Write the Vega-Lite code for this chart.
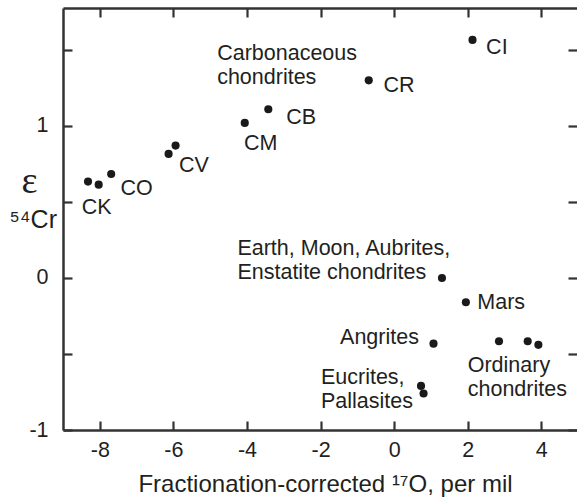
{
  "$schema": "https://vega.github.io/schema/vega-lite/v6.json",
  "width": 514,
  "height": 422,
  "autosize": {"type": "none"},
  "padding": {"left": 63, "top": 8, "right": 0, "bottom": 74},
  "background": "white",
  "config": {
    "view": {"stroke": null},
    "axis": {
      "grid": false,
      "domainColor": "#333333",
      "domainWidth": 2.5,
      "tickColor": "#333333",
      "tickWidth": 2.2,
      "tickSize": -9,
      "labelFont": "Liberation Sans",
      "labelFontSize": 21.5,
      "labelColor": "#231f20",
      "titleFont": "Liberation Sans",
      "titleFontWeight": "normal",
      "titleColor": "#231f20"
    }
  },
  "datasets": {
    "meteorites": [
      {"group": "CK", "o17": -8.32, "cr54": 0.634},
      {"group": "CK", "o17": -8.03, "cr54": 0.614},
      {"group": "CO", "o17": -7.69, "cr54": 0.684},
      {"group": "CV", "o17": -6.13, "cr54": 0.816},
      {"group": "CV", "o17": -5.94, "cr54": 0.871},
      {"group": "CM", "o17": -4.06, "cr54": 1.02},
      {"group": "CB", "o17": -3.42, "cr54": 1.11},
      {"group": "CR", "o17": -0.69, "cr54": 1.3},
      {"group": "CI", "o17": 2.13, "cr54": 1.566},
      {"group": "Earth, Moon, Aubrites, Enstatite chondrites", "o17": 1.3, "cr54": 0.0},
      {"group": "Mars", "o17": 1.95, "cr54": -0.16},
      {"group": "Angrites", "o17": 1.07, "cr54": -0.432},
      {"group": "Ordinary chondrites", "o17": 2.85, "cr54": -0.416},
      {"group": "Ordinary chondrites", "o17": 3.63, "cr54": -0.416},
      {"group": "Ordinary chondrites", "o17": 3.92, "cr54": -0.44},
      {"group": "Eucrites", "o17": 0.73, "cr54": -0.71},
      {"group": "Pallasites", "o17": 0.8, "cr54": -0.76}
    ],
    "labels": [
      {"label": "Carbonaceous\nchondrites", "x": -4.81, "y": 1.432},
      {"label": "CR", "x": -0.29, "y": 1.224},
      {"label": "CI", "x": 2.5, "y": 1.476},
      {"label": "CB", "x": -2.93, "y": 1.011},
      {"label": "CM", "x": -4.08, "y": 0.84},
      {"label": "CV", "x": -5.85, "y": 0.697},
      {"label": "CO", "x": -7.44, "y": 0.544},
      {"label": "CK", "x": -8.49, "y": 0.424},
      {"label": "Earth, Moon, Aubrites,\nEnstatite chondrites", "x": -4.26, "y": 0.149},
      {"label": "Mars", "x": 2.26, "y": -0.201},
      {"label": "Angrites", "x": -1.47, "y": -0.432},
      {"label": "Ordinary\nchondrites", "x": 2.0, "y": -0.618},
      {"label": "Eucrites,\nPallasites", "x": -1.99, "y": -0.695}
    ]
  },
  "layer": [
    {
      "data": {"name": "meteorites"},
      "mark": {"type": "point", "filled": true, "size": 66, "color": "#1a1a1a", "opacity": 1},
      "encoding": {
        "x": {
          "field": "o17",
          "type": "quantitative",
          "scale": {"domain": [-9, 4.97], "nice": false, "zero": false},
          "axis": {
            "orient": "bottom",
            "values": [-8, -6, -4, -2, 0, 2, 4],
            "labelPadding": 18,
            "labelExpr": "replace(format(datum.value, 'd'), '−', '-')",
            "title": "Fractionation-corrected ¹⁷O, per mil",
            "titleFontSize": 24,
            "titleX": 262,
            "titleY": 61,
            "titleBaseline": "alphabetic"
          }
        },
        "y": {
          "field": "cr54",
          "type": "quantitative",
          "scale": {"domain": [-1, 1.776], "nice": false, "zero": false},
          "axis": {
            "orient": "left",
            "values": [-1, -0.5, 0, 0.5, 1, 1.5],
            "labelPadding": 24,
            "labelExpr": "datum.value == round(datum.value) ? replace(format(datum.value, 'd'), '−', '-') : ''",
            "title": "⁵⁴Cr",
            "titleFontSize": 25,
            "titleAngle": 0,
            "titleAlign": "left",
            "titleBaseline": "alphabetic",
            "titleX": -54,
            "titleY": 219
          }
        }
      }
    },
    {
      "data": {"name": "labels"},
      "mark": {
        "type": "text",
        "align": "left",
        "baseline": "alphabetic",
        "lineBreak": "\n",
        "lineHeight": 24,
        "font": "Liberation Sans",
        "fontSize": 21.5,
        "color": "#231f20"
      },
      "encoding": {
        "x": {
          "field": "x",
          "type": "quantitative",
          "scale": {"domain": [-9, 4.97], "nice": false, "zero": false},
          "axis": {
            "orient": "top",
            "values": [-8, -6, -4, -2, 0, 2, 4],
            "labels": false,
            "title": null
          }
        },
        "y": {
          "field": "y",
          "type": "quantitative",
          "scale": {"domain": [-1, 1.776], "nice": false, "zero": false},
          "axis": {
            "orient": "right",
            "values": [-1, -0.5, 0, 0.5, 1, 1.5],
            "labels": false,
            "domain": false,
            "title": "ε",
            "titleFont": "Liberation Serif",
            "titleFontSize": 38,
            "titleAngle": 0,
            "titleAlign": "center",
            "titleBaseline": "alphabetic",
            "titleX": -548,
            "titleY": 184
          }
        },
        "text": {"field": "label"}
      }
    }
  ],
  "resolve": {"axis": {"x": "independent", "y": "independent"}}
}
